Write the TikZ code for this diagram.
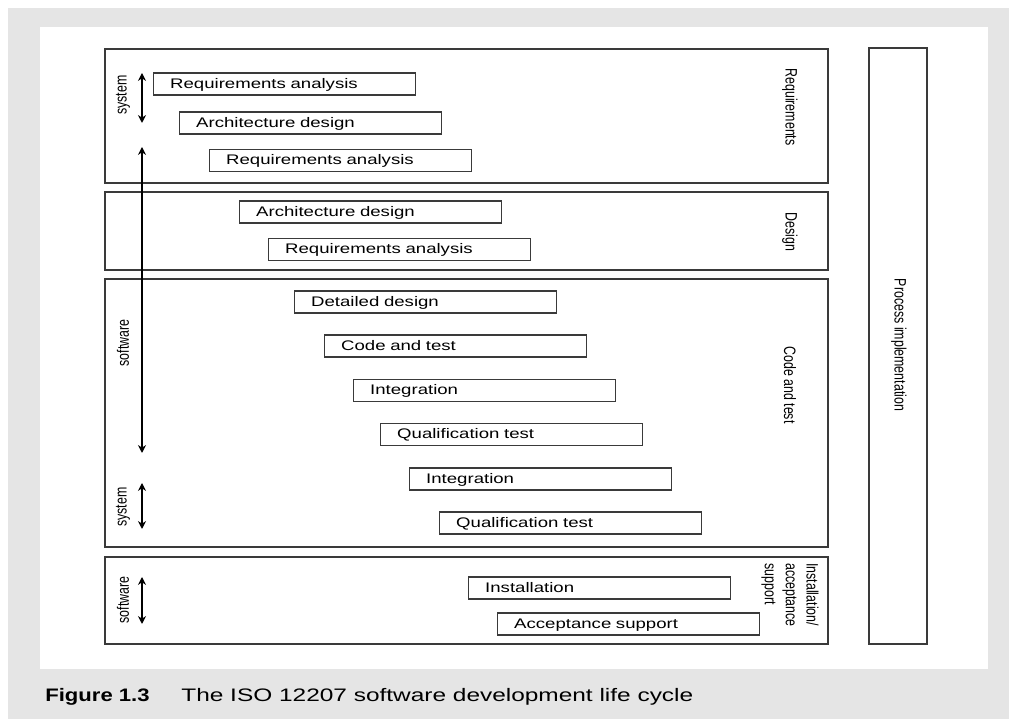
\documentclass[tikz,border=0pt]{standalone}
\usepackage{fontspec}
\usetikzlibrary{arrows.meta}

\setmainfont{Liberation Sans}
\newfontfamily\barfont[FakeStretch=1.34]{Liberation Sans}
\newfontfamily\sidefont[FakeStretch=0.75]{Liberation Sans}
\newfontfamily\capfont[FakeStretch=1.35]{Liberation Sans}
\newfontfamily\capnumfont[FakeStretch=1.22]{Liberation Sans}

\definecolor{framegray}{HTML}{3A3A3A}
\definecolor{pagegray}{HTML}{E5E5E5}

\tikzset{
  frame/.style={draw=framegray, line width=1pt},
  bar/.style={draw=framegray, line width=0.8pt, anchor=west,
    minimum height=0.44cm, text width=4.58cm, inner xsep=0.33cm, inner ysep=0pt,
    text height=6pt, text depth=0.9pt,
    align=left, font=\barfont\fontsize{7.9}{9}\selectfont},
  sidelabel/.style={rotate=-90, inner sep=0pt,
    font=\sidefont\fontsize{9.4}{11.9}\selectfont},
  levellabel/.style={rotate=90, inner sep=0pt,
    font=\sidefont\fontsize{9.4}{11.9}\selectfont},
  levelarrow/.style={{Stealth[length=4.5pt,width=4.5pt]}-{Stealth[length=4.5pt,width=4.5pt]},
    line width=0.8pt, draw=black}
}

\begin{document}
\begin{tikzpicture}[x=0.02cm, y=-0.02cm]

  % Page and caption band
  \useasboundingbox (0,0) rectangle (1009,719);
  \fill[pagegray] (8,8) rectangle (1009,719);
  \fill[white] (40,27) rectangle (988,669);

  % Phase frames
  \draw[frame] (105,49) rectangle (828,183);
  \draw[frame] (105,192) rectangle (828,270);
  \draw[frame] (105,279) rectangle (828,547);
  \draw[frame] (105,557) rectangle (828,644);
  \draw[frame] (869,48) rectangle (927,644);

  % Phase labels
  \node[sidelabel] (lblReq) at (790,107) {Requirements};
  \node[sidelabel] (lblDes) at (790,232) {Design};
  \node[sidelabel] (lblCode) at (790,385) {Code and test};
  \node[sidelabel, anchor=north west, align=left] (lblInst) at (819,563)
    {Installation/\\acceptance\\support};
  \node[sidelabel] (lblProc) at (899,345) {Process implementation};

  % Activity bars
  \foreach \n/\x/\y/\t in {1/153/84/Requirements analysis,
                           2/179/123/Architecture design,
                           3/209/160.5/Requirements analysis,
                           4/239/212/Architecture design,
                           5/268/249.5/Requirements analysis,
                           6/294/302/Detailed design,
                           7/324/346/Code and test,
                           8/353/390.5/Integration,
                           9/380/434.5/Qualification test,
                           10/409/479/Integration,
                           11/439/523/Qualification test,
                           12/468/588/Installation,
                           13/497/624/Acceptance support} {
    \node[bar] (bar\n) at (\x,\y) {\t};
  }

  % Level arrows
  \foreach \n/\ya/\yb in {1/73/123, 2/147/453, 3/483/529, 4/577/624} {
    \coordinate (up\n) at (142,\ya);
    \coordinate (down\n) at (142,\yb);
    \draw[levelarrow] (up\n) -- (down\n);
  }

  % Level labels
  \node[levellabel] (lvl1) at (123,95) {system};
  \node[levellabel] (lvl2) at (123,343) {software};
  \node[levellabel] (lvl3) at (123,507) {system};
  \node[levellabel] (lvl4) at (123,600) {software};

  % Caption
  \node[anchor=base west, inner sep=0pt,
        font=\capnumfont\bfseries\fontsize{10.3}{12}\selectfont] (capNum) at (45,702) {Figure 1.3};
  \node[anchor=base west, inner sep=0pt,
        font=\capfont\fontsize{10.3}{12}\selectfont] (capText) at (181,702)
    {The ISO 12207 software development life cycle};

\end{tikzpicture}
\end{document}
